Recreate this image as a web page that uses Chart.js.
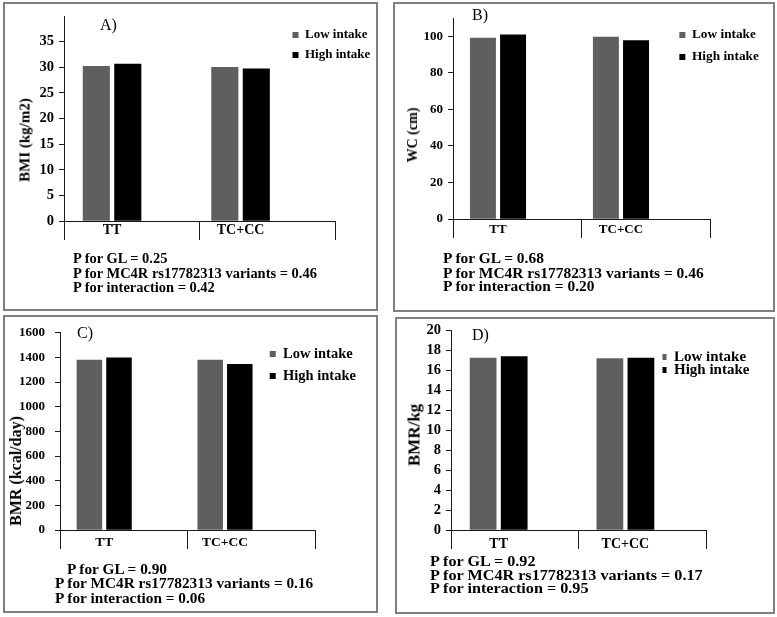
<!DOCTYPE html>
<html><head><meta charset="utf-8">
<script src="https://cdn.jsdelivr.net/npm/chart.js@4.4.1/dist/chart.umd.min.js"></script>
<style>
html,body{margin:0;padding:0;background:#fff;}
#page{position:relative;width:777px;height:617px;overflow:hidden;background:#fff;}
.box{position:absolute;border:2px solid #7f7f7f;box-sizing:border-box;}
canvas{position:absolute;}
.ptxt{position:absolute;font-family:"Liberation Serif","Times New Roman",serif;font-weight:bold;font-size:14.2px;line-height:14px;white-space:nowrap;color:#000;transform-origin:0 50%;}
.tag{position:absolute;font-family:"Liberation Serif","Times New Roman",serif;font-size:16px;line-height:16px;color:#000;}
.ytitle{position:absolute;font-family:"Liberation Serif","Times New Roman",serif;font-weight:bold;line-height:1;white-space:nowrap;color:#000;transform:translate(-50%,-50%) rotate(-90deg);}
</style></head><body>
<div id="page"></div>
<script>
// ---- data ----
const categories = ['TT', 'TC+CC'];
const seriesNames = ['Low intake', 'High intake'];
const bmiLow = [30.2, 30.0];
const bmiHigh = [30.6, 29.7];
const wcLow = [99.0, 99.6];
const wcHigh = [100.8, 97.7];
const bmrLow = [1378, 1378];
const bmrHigh = [1397, 1344];
const bmrKgLow = [17.25, 17.2];
const bmrKgHigh = [17.4, 17.25];
const bmiTicks = [0, 5, 10, 15, 20, 25, 30, 35];
const wcTicks = [0, 20, 40, 60, 80, 100];
const bmrTicks = [0, 200, 400, 600, 800, 1000, 1200, 1400, 1600];
const bmrKgTicks = [0, 2, 4, 6, 8, 10, 12, 14, 16, 18, 20];
const pTextA = ['P for GL = 0.25', 'P for MC4R rs17782313 variants = 0.46', 'P for interaction = 0.42'];
const pTextB = ['P for GL = 0.68', 'P for MC4R rs17782313 variants = 0.46', 'P for interaction = 0.20'];
const pTextC = ['P for GL = 0.90', 'P for MC4R rs17782313 variants = 0.16', 'P for interaction = 0.06'];
const pTextD = ['P for GL = 0.92', 'P for MC4R rs17782313 variants = 0.17', 'P for interaction =  0.95'];

// ---- layout / style ----
const FONT = '"Liberation Serif", "Times New Roman", serif';
const lowColor = '#5f5f5f';
const highColor = '#000000';
const axisColor = '#1a1a1a';

const panels = [
  {tag: 'A)', yTitle: 'BMI (kg/m2)', low: bmiLow, high: bmiHigh, ticks: bmiTicks, yMax: 40,
   box: {x: 3, y: 2, w: 375, h: 309}, area: {l: 64, t: 16, r: 335, b: 221}, xMin: -0.374, xMax: 1.735,
   title: {x: 25, y: 139.5, size: 15}, tickSize: 14.5, tickPad: 5, catSize: 14,
   tagPos: [100, 25], legend: {textX: 305, y: 35, gap: 20, size: 13}, labelY: 229,
   text: pTextA, textScale: 1.02, textPos: [[73, 258], [73, 273], [73, 287]]},
  {tag: 'B)', yTitle: 'WC (cm)', low: wcLow, high: wcHigh, ticks: wcTicks, yMax: 110,
   box: {x: 393, y: 2, w: 382, h: 310}, area: {l: 453, t: 18, r: 710, b: 219}, xMin: -0.366, xMax: 1.724,
   title: {x: 413, y: 135, size: 14}, tickSize: 13, tickPad: 5, catSize: 13,
   tagPos: [472, 15], legend: {textX: 692, y: 35, gap: 22, size: 13.3}, labelY: 229,
   text: pTextB, textScale: 1.09, textPos: [[443, 258], [443, 273], [443, 286]]},
  {tag: 'C)', yTitle: 'BMR (kcal/day)', low: bmrLow, high: bmrHigh, ticks: bmrTicks, yMax: 1600,
   box: {x: 3, y: 315, w: 375, h: 298}, area: {l: 60, t: 329, r: 315, b: 530}, xMin: -0.366, xMax: 1.745,
   title: {x: 16, y: 471, size: 16}, tickSize: 13, tickPad: 10, catSize: 13.5,
   tagPos: [77, 333], legend: {textX: 283, y: 354, gap: 22, size: 14.5}, labelY: 541,
   text: pTextC, textScale: 1.08, textPos: [[67, 569], [55, 583], [55, 598]]},
  {tag: 'D)', yTitle: 'BMR/kg', low: bmrKgLow, high: bmrKgHigh, ticks: bmrKgTicks, yMax: 20,
   box: {x: 395, y: 317, w: 380, h: 297}, area: {l: 451, t: 329, r: 706, b: 530}, xMin: -0.376, xMax: 1.636,
   title: {x: 414, y: 435, size: 17}, tickSize: 14.5, tickPad: 5, catSize: 14,
   tagPos: [472, 335], legend: {textX: 674, y: 357, gap: 13, size: 15}, labelY: 543,
   text: pTextD, textScale: 1.14, textPos: [[430, 561], [430, 575], [430, 588]]}
];

const legendMover = {
  id: 'legendMover',
  afterLayout(chart, args, opts) {
    const lg = chart.legend;
    if (!lg || opts.x == null) return;
    const pad = opts.pad;
    const w = lg.width, h = lg.height;
    lg.left = opts.x - pad;
    lg.top = opts.y - pad - opts.itemH / 2;
    lg.right = lg.left + w;
    lg.bottom = lg.top + h;
  }
};

const page = document.getElementById('page');

panels.forEach(p => {
  const box = document.createElement('div');
  box.className = 'box';
  Object.assign(box.style, {left: p.box.x + 'px', top: p.box.y + 'px', width: p.box.w + 'px', height: p.box.h + 'px'});
  page.appendChild(box);

  const cv = document.createElement('canvas');
  cv.width = p.box.w; cv.height = p.box.h;
  Object.assign(cv.style, {left: p.box.x + 'px', top: p.box.y + 'px', width: p.box.w + 'px', height: p.box.h + 'px'});
  page.appendChild(cv);

  const yW = p.area.l - p.box.x;
  const xH = p.box.y + p.box.h - p.area.b;
  const padTop = p.area.t - p.box.y;
  const padRight = p.box.x + p.box.w - p.area.r;
  const lgSize = p.legend.size;
  const legPad = p.legend.gap - lgSize;
  const boxW = 6;
  const legBoxX = p.legend.textX - boxW - lgSize / 2 - p.box.x;
  const labelPad = (p.labelY - p.area.b) - 19 - 7;

  new Chart(cv, {
    type: 'bar',
    data: {
      datasets: [
        {label: seriesNames[0], data: categories.map((c, i) => ({x: i, y: p.low[i]})), backgroundColor: lowColor, borderWidth: 0},
        {label: seriesNames[1], data: categories.map((c, i) => ({x: i, y: p.high[i]})), backgroundColor: highColor, borderWidth: 0}
      ]
    },
    options: {
      responsive: false,
      animation: false,
      devicePixelRatio: 1,
      events: [],
      barThickness: 'flex',
      categoryPercentage: 0.49,
      barPercentage: 0.84,
      layout: {autoPadding: false, padding: {left: 0, top: padTop, right: padRight, bottom: 0}},
      scales: {
        x: {
          type: 'linear', offset: false, min: p.xMin, max: p.xMax,
          afterBuildTicks: (s) => {
            const mid = (s.min + s.max) / 2;
            s.ticks = [s.min, 0, mid, 1, s.max].map(v => ({value: v}));
          },
          afterFit: (s) => { s.height = xH; },
          ticks: {
            autoSkip: false, maxRotation: 0, minRotation: 0, padding: labelPad,
            color: '#000', font: {family: FONT, weight: 'bold', size: p.catSize},
            callback: (v) => (Number.isInteger(v) && categories[v] !== undefined) ? categories[v] : ''
          },
          grid: {
            offset: false, drawOnChartArea: false, drawTicks: true, tickLength: 19,
            tickColor: (ctx) => (ctx.tick && Number.isInteger(ctx.tick.value)) ? 'rgba(0,0,0,0)' : axisColor,
            tickWidth: 1
          },
          border: {display: true, color: axisColor, width: 1}
        },
        y: {
          type: 'linear', min: 0, max: p.yMax,
          afterBuildTicks: (s) => { s.ticks = p.ticks.map(v => ({value: v})); },
          afterFit: (s) => { s.width = yW; },
          ticks: {autoSkip: false, color: '#000', padding: p.tickPad,
                  font: {family: FONT, weight: 'bold', size: p.tickSize},
                  callback: (v) => String(v)},
          grid: {drawOnChartArea: false, drawTicks: true, tickLength: 5, tickColor: axisColor},
          border: {display: true, color: axisColor, width: 1},
          title: {display: false}
        }
      },
      plugins: {
        legend: {
          display: true, position: 'chartArea', align: 'start',
          labels: {boxWidth: boxW, boxHeight: 6, padding: legPad, color: '#000',
                   font: {family: FONT, weight: 'bold', size: lgSize}}
        },
        tooltip: {enabled: false},
        legendMover: {x: legBoxX, y: p.legend.y - p.box.y, pad: legPad, itemH: lgSize}
      }
    },
    plugins: [legendMover]
  });

  const yt = document.createElement('div');
  yt.className = 'ytitle';
  yt.textContent = p.yTitle;
  Object.assign(yt.style, {left: p.title.x + 'px', top: p.title.y + 'px', fontSize: p.title.size + 'px'});
  page.appendChild(yt);

  const tag = document.createElement('div');
  tag.className = 'tag';
  tag.textContent = p.tag;
  Object.assign(tag.style, {left: p.tagPos[0] + 'px', top: (p.tagPos[1] - 8) + 'px'});
  page.appendChild(tag);

  p.text.forEach((t, i) => {
    const d = document.createElement('div');
    d.className = 'ptxt';
    d.textContent = t;
    Object.assign(d.style, {left: p.textPos[i][0] + 'px', top: (p.textPos[i][1] - 7) + 'px',
                            transform: 'scaleX(' + p.textScale + ')'});
    page.appendChild(d);
  });
});
</script>
</body></html>
